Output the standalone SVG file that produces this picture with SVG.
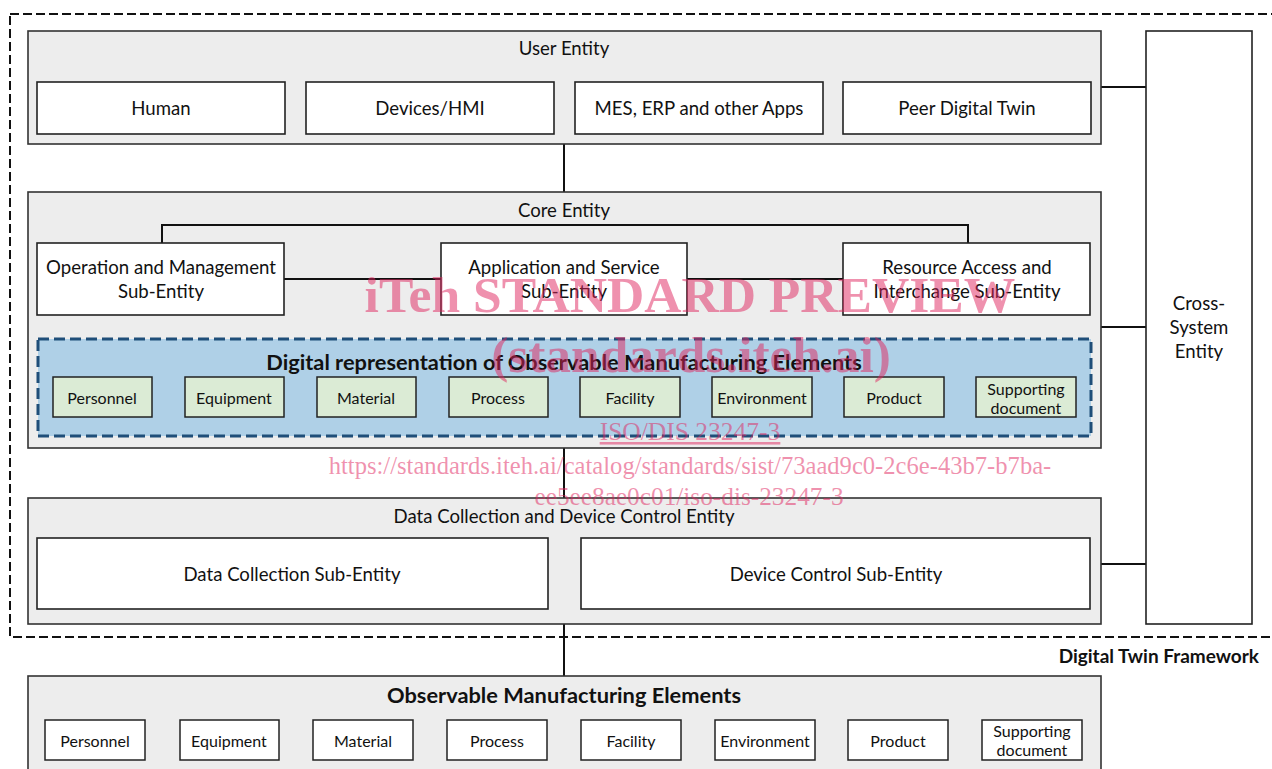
<svg xmlns="http://www.w3.org/2000/svg" width="1272" height="769" viewBox="0 0 1272 769">
  <style>
    .frame { fill: none; stroke: #111; stroke-width: 2; stroke-dasharray: 9 4; }
    .entity { fill: #ededed; stroke: #333; stroke-width: 1.6; }
    .sub { fill: #fff; stroke: #222; stroke-width: 1.6; }
    .dr { fill: #afd0e7; stroke: #1f4e79; stroke-width: 3; stroke-dasharray: 11 5; }
    .elem { fill: #dbebd5; stroke: #222; stroke-width: 1.5; }
    .ome { fill: #fff; stroke: #222; stroke-width: 1.5; }
    .conn { fill: none; stroke: #111; stroke-width: 2; }
    text { font-family: Lato, "Open Sans", sans-serif; fill: #111; text-anchor: middle; dominant-baseline: central; }
    .t18 { font-size: 18.6px; }
    .t15 { font-size: 16px; }
    .bold { font-weight: bold; }
    .wm { font-family: "Liberation Serif", serif; fill: #e0245e; fill-opacity: 0.5; dominant-baseline: alphabetic; }
  </style>

  <!-- framework boundary -->
  <rect class="frame" x="10" y="14" width="1300" height="623"/>
  <text class="bold" x="1259" y="655" style="text-anchor:end;font-size:19px">Digital Twin Framework</text>

  <!-- connectors -->
  <g id="connectors">
    <line class="conn" x1="564" y1="144" x2="564" y2="192"/>
    <line class="conn" x1="564" y1="448" x2="564" y2="498"/>
    <line class="conn" x1="564" y1="624" x2="564" y2="676"/>
    <line class="conn" x1="1101" y1="87" x2="1147" y2="87"/>
    <line class="conn" x1="1101" y1="327" x2="1147" y2="327"/>
    <line class="conn" x1="1101" y1="564" x2="1147" y2="564"/>
  </g>

  <!-- user entity -->
  <g id="user-entity">
    <rect class="entity" x="28" y="31" width="1073" height="113"/>
    <text class="t18" x="564" y="48">User Entity</text>
    <rect class="sub" x="37" y="82" width="248" height="52"/>
    <text class="t18" x="161" y="108">Human</text>
    <rect class="sub" x="306" y="82" width="248" height="52"/>
    <text class="t18" x="430" y="108">Devices/HMI</text>
    <rect class="sub" x="575" y="82" width="248" height="52"/>
    <text class="t18" x="699" y="108">MES, ERP and other Apps</text>
    <rect class="sub" x="843" y="82" width="248" height="52"/>
    <text class="t18" x="967" y="108">Peer Digital Twin</text>
  </g>

  <!-- cross-system entity -->
  <g id="cross-system-entity">
    <rect class="sub" x="1146" y="31" width="106" height="593"/>
    <text class="t18" x="1199" y="303">Cross-</text>
    <text class="t18" x="1199" y="327">System</text>
    <text class="t18" x="1199" y="351">Entity</text>
  </g>

  <!-- core entity -->
  <g id="core-entity">
    <rect class="entity" x="28" y="192" width="1073" height="256"/>
    <text class="t18" x="564" y="210">Core Entity</text>
    <path class="conn" d="M162 243 V225 H968 V243"/>
    <line class="conn" x1="284" y1="279" x2="843" y2="279"/>
    <rect class="sub" x="37" y="243" width="247" height="72"/>
    <text class="t18" x="161" y="267">Operation and Management</text>
    <text class="t18" x="161" y="291">Sub-Entity</text>
    <rect class="sub" x="441" y="243" width="246" height="72"/>
    <text class="t18" x="564" y="267">Application and Service</text>
    <text class="t18" x="564" y="291">Sub-Entity</text>
    <rect class="sub" x="843" y="243" width="247" height="72"/>
    <text class="t18" x="967" y="267">Resource Access and</text>
    <text class="t18" x="967" y="291">Interchange Sub-Entity</text>
  </g>

  <!-- digital representation of observable manufacturing elements -->
  <g id="digital-representation">
    <rect class="dr" x="38" y="339" width="1053" height="97"/>
    <text class="bold" x="564" y="361" style="font-size:21.8px">Digital representation of Observable Manufacturing Elements</text>
    <rect class="elem" x="53" y="377" width="99" height="40"/>
    <text class="t15" x="102" y="397">Personnel</text>
    <rect class="elem" x="185" y="377" width="99" height="40"/>
    <text class="t15" x="234" y="397">Equipment</text>
    <rect class="elem" x="317" y="377" width="99" height="40"/>
    <text class="t15" x="366" y="397">Material</text>
    <rect class="elem" x="449" y="377" width="99" height="40"/>
    <text class="t15" x="498" y="397">Process</text>
    <rect class="elem" x="580" y="377" width="100" height="40"/>
    <text class="t15" x="630" y="397">Facility</text>
    <rect class="elem" x="712" y="377" width="100" height="40"/>
    <text class="t15" x="762" y="397">Environment</text>
    <rect class="elem" x="844" y="377" width="100" height="40"/>
    <text class="t15" x="894" y="397">Product</text>
    <rect class="elem" x="976" y="377" width="100" height="40"/>
    <text class="t15" x="1026" y="388">Supporting</text>
    <text class="t15" x="1026" y="407">document</text>
  </g>

  <!-- data collection and device control entity -->
  <g id="data-collection-entity">
    <rect class="entity" x="28" y="498" width="1073" height="126"/>
    <text class="t18" x="564" y="516">Data Collection and Device Control Entity</text>
    <rect class="sub" x="37" y="538" width="511" height="71"/>
    <text class="t18" x="292" y="574">Data Collection Sub-Entity</text>
    <rect class="sub" x="581" y="538" width="509" height="71"/>
    <text class="t18" x="836" y="574">Device Control Sub-Entity</text>
  </g>

  <!-- observable manufacturing elements -->
  <g id="observable-elements">
    <rect class="entity" x="28" y="676" width="1073" height="110"/>
    <text class="bold" x="564" y="694" style="font-size:21.8px">Observable Manufacturing Elements</text>
    <rect class="ome" x="45" y="720" width="100" height="40"/>
    <text class="t15" x="95" y="740">Personnel</text>
    <rect class="ome" x="180" y="720" width="99" height="40"/>
    <text class="t15" x="229" y="740">Equipment</text>
    <rect class="ome" x="313" y="720" width="100" height="40"/>
    <text class="t15" x="363" y="740">Material</text>
    <rect class="ome" x="447" y="720" width="100" height="40"/>
    <text class="t15" x="497" y="740">Process</text>
    <rect class="ome" x="581" y="720" width="100" height="40"/>
    <text class="t15" x="631" y="740">Facility</text>
    <rect class="ome" x="715" y="720" width="100" height="40"/>
    <text class="t15" x="765" y="740">Environment</text>
    <rect class="ome" x="848" y="720" width="100" height="40"/>
    <text class="t15" x="898" y="740">Product</text>
    <rect class="ome" x="982" y="720" width="100" height="40"/>
    <text class="t15" x="1032" y="730">Supporting</text>
    <text class="t15" x="1032" y="749">document</text>
  </g>

  <!-- publisher watermark -->
  <g id="watermark">
    <text class="wm" x="690" y="312" style="font-size:51.6px;font-weight:bold">iTeh STANDARD PREVIEW</text>
    <text class="wm" x="691" y="372" style="font-size:51.4px;font-weight:bold">(standards.iteh.ai)</text>
    <text class="wm" x="690" y="440" style="font-size:25.5px;text-decoration:underline">ISO/DIS 23247-3</text>
    <text class="wm" x="690" y="474" style="font-size:24.6px">https://standards.iteh.ai/catalog/standards/sist/73aad9c0-2c6e-43b7-b7ba-</text>
    <text class="wm" x="689" y="505" style="font-size:25.3px">ee5ee8ae0c01/iso-dis-23247-3</text>
  </g>
</svg>
